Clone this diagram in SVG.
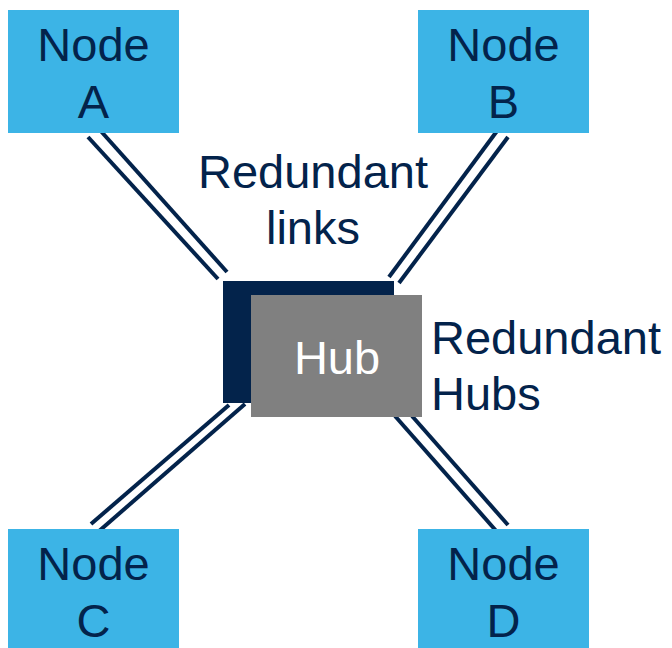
<svg xmlns="http://www.w3.org/2000/svg" width="672" height="648" viewBox="0 0 672 648">
<style>
.node{fill:#3CB4E6}
.t{font-family:"Liberation Sans",Arial,sans-serif;font-size:47px;fill:#03234B}
.c{text-anchor:middle}
.ln{stroke:#03234B;stroke-width:4;fill:none}
</style>
<rect width="672" height="648" fill="#fff"/>
<g id="connectors">
<line class="ln" x1="88" y1="137" x2="218" y2="279"/>
<line class="ln" x1="99" y1="129" x2="227" y2="272"/>
<line class="ln" x1="497" y1="131" x2="389" y2="277"/>
<line class="ln" x1="508" y1="137" x2="399" y2="283"/>
<line class="ln" x1="229" y1="405" x2="91" y2="524"/>
<line class="ln" x1="245" y1="404" x2="98" y2="532"/>
<line class="ln" x1="395" y1="416" x2="498" y2="533"/>
<line class="ln" x1="412" y1="416" x2="508" y2="525"/>
</g>
<g id="nodeA"><rect class="node" x="8" y="10" width="171" height="123"/><text class="t c" x="93.5" y="61">Node</text><text class="t c" x="93.5" y="118">A</text></g>
<g id="nodeB"><rect class="node" x="418" y="10" width="171" height="123"/><text class="t c" x="503.5" y="61">Node</text><text class="t c" x="503.5" y="118">B</text></g>
<g id="nodeC"><rect class="node" x="8" y="529" width="171" height="123"/><text class="t c" x="93.5" y="580">Node</text><text class="t c" x="93.5" y="637">C</text></g>
<g id="nodeD"><rect class="node" x="418" y="529" width="171" height="123"/><text class="t c" x="503.5" y="580">Node</text><text class="t c" x="503.5" y="637">D</text></g>
<g id="hub">
<rect x="223" y="281" width="171" height="122" fill="#03234B"/>
<rect x="251" y="295" width="171" height="122" fill="#808080"/>
<text class="t c" x="337" y="374" style="fill:#fff">Hub</text>
</g>
<g id="label-links"><text class="t c" x="313" y="188">Redundant</text><text class="t c" x="313" y="244">links</text></g>
<g id="label-hubs"><text class="t" x="431" y="354">Redundant</text><text class="t" x="431" y="410">Hubs</text></g>
</svg>
